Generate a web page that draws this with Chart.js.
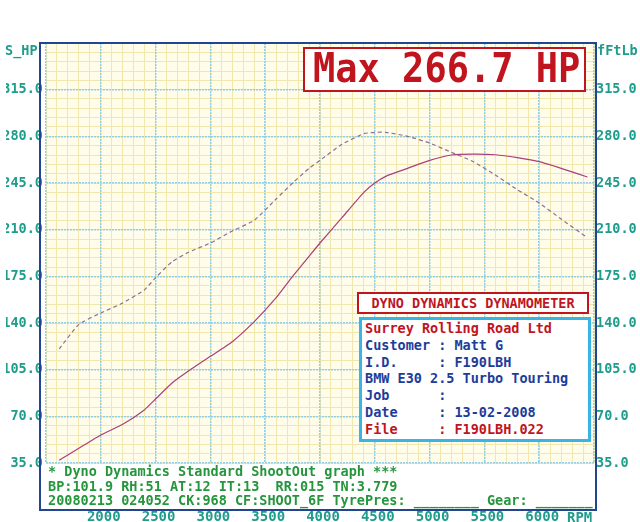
<!DOCTYPE html>
<html>
<head>
<meta charset="utf-8">
<script src="https://cdn.jsdelivr.net/npm/chart.js@4.4.0/dist/chart.umd.min.js"></script>
<style>
  body { margin: 0; background: #fff; }
  #wrap { position: relative; width: 640px; height: 522px; overflow: hidden;
          font-family: "DejaVu Sans Mono", monospace; font-weight: bold; }
  #chartCanvas { position: absolute; left: 0; top: 0; }
  .frame { position: absolute; left: 39px; top: 42px; width: 558px; height: 469px;
           border: 2px solid #23458f; box-sizing: border-box; }
  .lbl { position: absolute; white-space: pre; font-size: 13.5px; line-height: 16px; color: #1e9c8c; }
  .maxbox { position: absolute; left: 303px; top: 47px; width: 283px; height: 45px; box-sizing: border-box;
            border: 2.5px solid #c0141e; background: #fff; color: #c0141e; font-size: 37px;
            line-height: 40px; padding-left: 8px; white-space: pre; }
  .maxbox span { display: inline-block; transform: scaleY(1.1); }
  .head { position: absolute; left: 357px; top: 292px; width: 232px; height: 22px; box-sizing: border-box;
          border: 2px solid #c0141e; background: #fff; color: #c0141e; font-size: 13.5px;
          line-height: 18px; text-align: center; white-space: pre; }
  .info { position: absolute; left: 359px; top: 317px; width: 232px; height: 125px; box-sizing: border-box;
          border: 3px solid #3ab4e4; background: #fff; color: #1d3c9a; font-size: 13.5px;
          line-height: 16.8px; padding-left: 3px; white-space: pre; }
  .info .red { color: #c0141e; }
  .foot { position: absolute; left: 48px; top: 464px; color: #25963c; font-size: 13.5px;
          line-height: 14.5px; white-space: pre; }
</style>
</head>
<body>
<div id="wrap">
  <canvas id="chartCanvas" width="640" height="522"></canvas>
  <div class="frame"></div>
  <div class="lbl" style="left:5px; top:42px;">S_HP</div>
  <div class="lbl" style="left:597px; top:42px;">fFtLb</div>
  <div class="lbl" style="left:567px; top:509px; font-size:14px;">RPM</div>
  <div class="maxbox"><span>Max 266.7 HP</span></div>
  <div class="head">DYNO DYNAMICS DYNAMOMETER</div>
  <div class="info"><div class="red">Surrey Rolling Road Ltd</div><div>Customer : Matt G</div><div>I.D.     : F190LBH</div><div>BMW E30 2.5 Turbo Touring</div><div>Job      :</div><div>Date     : 13-02-2008</div><div class="red">File     : F190LBH.022</div></div>
  <div class="foot">* Dyno Dynamics Standard ShootOut graph ***
BP:101.9 RH:51 AT:12 IT:13  RR:015 TN:3.779
20080213 024052 CK:968 CF:SHOOT_6F TyrePres: ________ Gear: _______</div>
</div>
<script>
// engine speed (rpm) for each reading
const rpm = [1620, 1800, 2000, 2200, 2400, 2500, 2650, 2800, 3000, 3200, 3400, 3600, 3750, 3900,
             4000, 4200, 4400, 4500, 4600, 4800, 5000, 5200, 5400, 5600, 5800, 6000, 6200, 6440];
// power, S_HP (solid line)
const powerHp = [37, 46, 56, 64, 75, 83, 95, 104, 115, 126, 141, 159, 175, 190,
                 200, 219, 238, 245, 250, 256, 262, 266, 266.7, 266.2, 264, 261, 256, 249.5];
// torque, ft-lb (dashed line)
const torqueFtLb = [120.5, 139, 147.5, 155, 165, 174, 186, 193, 200, 209, 217, 233, 245, 256,
                    262, 274, 282, 283, 283, 280, 275, 268, 261, 251, 240, 230, 218, 204];

const rpmTicks = [2000, 2500, 3000, 3500, 4000, 4500, 5000, 5500, 6000];
const valueTicks = [35, 70, 105, 140, 175, 210, 245, 280, 315];

const teal = "#1e9c8c";
const minorColor = "#f1e6ad";
const majorColor = "#95cfe6";
const monoFont = { family: "DejaVu Sans Mono", size: 13.5, weight: "bold" };

const paper = {
    id: "paper",
    beforeDraw(chart) {
        const { ctx, chartArea: a } = chart;
        ctx.save();
        ctx.fillStyle = "#fffce9";
        ctx.fillRect(a.left, a.top, a.right - a.left, a.bottom - a.top);
        ctx.restore();
    }
};

function minorGrid(pos, min, max, step) {
    return {
        type: "linear",
        position: pos,
        min: min,
        max: max,
        ticks: { display: false, stepSize: step, autoSkip: false, maxTicksLimit: 200 },
        grid: { color: minorColor, lineWidth: 1, drawTicks: false, z: -2 },
        border: { display: false },
        afterFit(s) {
            if (pos === "top") s.height = 0; else s.width = 0;
        }
    };
}

const ctx = document.getElementById("chartCanvas").getContext("2d");

new Chart(ctx, {
    type: "line",
    data: {
        datasets: [
            {
                label: "S_HP",
                data: rpm.map((r, i) => ({ x: r, y: powerHp[i] })),
                borderColor: "#a8407e",
                borderWidth: 1.2,
                tension: 0.15,
                yAxisID: "y"
            },
            {
                label: "fFtLb",
                data: rpm.map((r, i) => ({ x: r, y: torqueFtLb[i] })),
                borderColor: "#8c6f98",
                borderWidth: 1.2,
                borderDash: [4, 3],
                tension: 0.15,
                yAxisID: "y2"
            }
        ]
    },
    plugins: [paper],
    options: {
        responsive: false,
        animation: false,
        devicePixelRatio: 1,
        layout: { padding: { top: 43, left: 0, right: 0, bottom: 0 } },
        plugins: { legend: { display: false }, tooltip: { enabled: false } },
        elements: { point: { radius: 0 } },
        scales: {
            xMinor: minorGrid("top", 1500, 6500, 100),
            yMinor: minorGrid("left", 35, 350, 7),
            x: {
                type: "linear",
                position: "bottom",
                min: 1500,
                max: 6500,
                ticks: {
                    stepSize: 500, autoSkip: false, maxRotation: 0, padding: 46, labelOffset: 3,
                    color: teal, font: { family: "DejaVu Sans Mono", size: 14, weight: "bold" },
                    callback: v => rpmTicks.includes(v) ? String(v) : ""
                },
                grid: { color: majorColor, lineWidth: 1.5, drawTicks: false },
                border: { display: false, dash: [2, 1] },
                afterFit(s) { s.height = 59; }
            },
            y: {
                type: "linear",
                position: "left",
                min: 35,
                max: 350,
                ticks: {
                    stepSize: 35, padding: 3, color: teal, font: monoFont,
                    callback: v => valueTicks.includes(v) ? v.toFixed(1) : ""
                },
                grid: { color: majorColor, lineWidth: 1.5, drawTicks: false },
                border: { display: false, dash: [2, 1] },
                afterFit(s) { s.width = 40; }
            },
            y2: {
                type: "linear",
                position: "right",
                min: 35,
                max: 350,
                ticks: {
                    stepSize: 35, padding: 2, color: teal, font: monoFont,
                    callback: v => valueTicks.includes(v) ? v.toFixed(1) : ""
                },
                grid: { display: false, drawTicks: false },
                border: { display: false },
                afterFit(s) { s.width = 45; }
            }
        }
    }
});
</script>
</body>
</html>
